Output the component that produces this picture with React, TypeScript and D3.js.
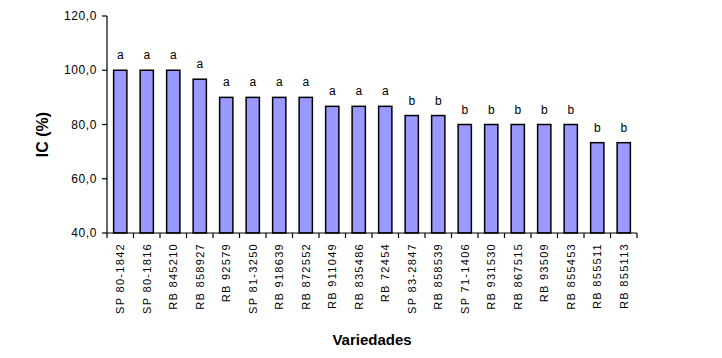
import React from "react";
import * as d3 from "d3";

const categories = ["SP 80-1842","SP 80-1816","RB 845210","RB 858927","RB 92579","SP 81-3250","RB 918639","RB 872552","RB 911049","RB 835486","RB 72454","SP 83-2847","RB 858539","SP 71-1406","RB 931530","RB 867515","RB 93509","RB 855453","RB 855511","RB 855113"];
const values = [100,100,100,96.7,90,90,90,90,86.7,86.7,86.7,83.3,83.3,80,80,80,80,80,73.3,73.3];
const groups = ["a","a","a","a","a","a","a","a","a","a","a","b","b","b","b","b","b","b","b","b"];
const yTicks = [40,60,80,100,120];

export default function App() {
  const W = 722, H = 358;
  const x0 = 107, x1 = 637, yTop = 16, yBot = 233;
  const x = d3.scaleBand<string>().domain(categories).range([x0, x1]).paddingInner(0.5).paddingOuter(0.25);
  const y = d3.scaleLinear().domain([40, 120]).range([yBot, yTop]);
  const band = (x1 - x0) / categories.length;
  const font = "Liberation Sans, Arial, sans-serif";
  const fmt = (v: number) => v.toFixed(1).replace(".", ",");
  return (
    <svg width={W} height={H} style={{ position: "absolute", left: 0, top: 0, background: "#fff" }} fontFamily={font}>
      <rect x={0} y={0} width={W} height={H} fill="#fff" />
      {categories.map((c, i) => (
        <g key={c}>
          <rect x={x(c)!} y={y(values[i])} width={x.bandwidth()} height={yBot - y(values[i])}
            fill="#9999ff" stroke="#000" strokeWidth={1.5} />
          <text x={x(c)! + x.bandwidth() / 2} y={y(values[i]) - 11} fontSize={12} textAnchor="middle" fill="#000">{groups[i]}</text>
          <text transform={`translate(${x(c)! + x.bandwidth() / 2},${yBot + 10}) rotate(-90)`} fontSize={11}
            letterSpacing={1.3} textAnchor="end" dominantBaseline="central" fill="#000">{c}</text>
        </g>
      ))}
      <line x1={x0} x2={x0} y1={yTop} y2={yBot} stroke="#000" strokeWidth={1.2} />
      <line x1={x0} x2={x1} y1={yBot} y2={yBot} stroke="#000" strokeWidth={1.2} />
      {yTicks.map(t => (
        <g key={t}>
          <line x1={x0 - 5} x2={x0} y1={y(t)} y2={y(t)} stroke="#000" strokeWidth={1.2} />
          <text x={x0 - 10} y={y(t)} fontSize={12} letterSpacing={0.6} textAnchor="end" dominantBaseline="central" fill="#000">{fmt(t)}</text>
        </g>
      ))}
      {d3.range(categories.length + 1).map(i => (
        <line key={i} x1={x0 + i * band} x2={x0 + i * band} y1={yBot} y2={yBot + 5} stroke="#000" strokeWidth={1.2} />
      ))}
      <text transform={`translate(48,${(yTop + yBot) / 2 + 10}) rotate(-90)`} fontSize={16} fontWeight="bold" textAnchor="middle" fill="#000">IC (%)</text>
      <text x={372} y={345} fontSize={15} fontWeight="bold" textAnchor="middle" fill="#000">Variedades</text>
    </svg>
  );
}
